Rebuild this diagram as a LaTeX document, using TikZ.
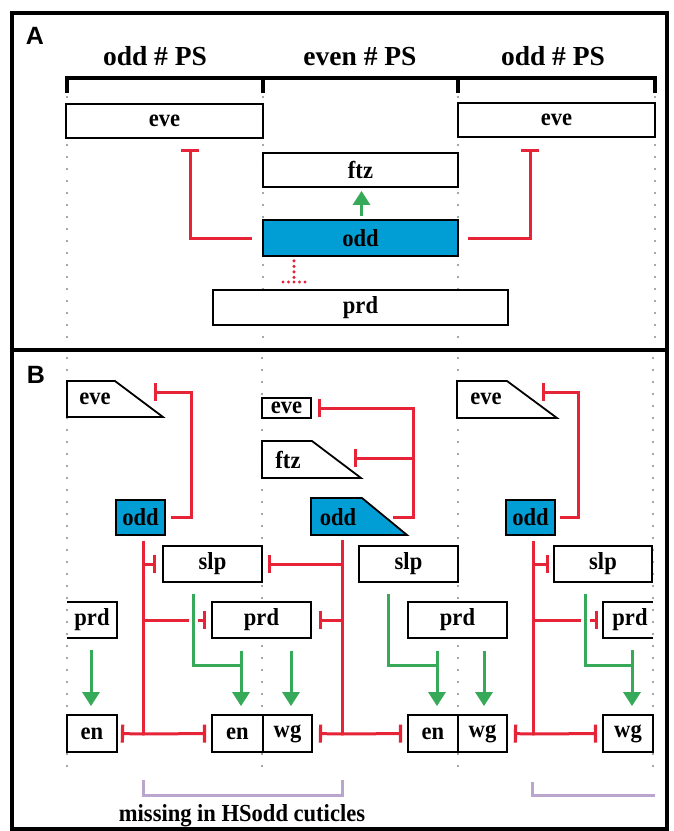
\documentclass[tikz,border=0pt]{standalone}
\usepackage{fontspec}
\setmainfont{Liberation Serif}
\newfontfamily\lblfont{Liberation Serif}[FakeStretch=0.92]
\newfontfamily\panelfont{Liberation Sans}
\usetikzlibrary{arrows.meta,calc}
\definecolor{oddblue}{RGB}{0,158,212}
\definecolor{inhred}{RGB}{230,35,55}
\definecolor{actgreen}{RGB}{55,170,90}
\definecolor{brpurple}{RGB}{185,165,205}
\definecolor{dotgray}{RGB}{135,135,135}
\begin{document}
\begin{tikzpicture}[x=1pt,y=-1pt,
  lbl/.style={font=\lblfont\fontsize{24.5}{26}\selectfont\bfseries, inner sep=0pt},
  hdr/.style={font=\fontsize{27.5}{30}\selectfont\bfseries, inner sep=0pt},
  pl/.style={font=\panelfont\fontsize{25}{26}\selectfont\bfseries, inner sep=0pt},
  box/.style={lbl, draw=black, line width=1.8pt, fill=white},
  oddbox/.style={box, fill=oddblue},
  ghost/.style={lbl, draw=none},
  trap/.style={draw=black, line width=1.8pt, fill=white, line join=miter},
  frame/.style={draw=black, line width=3.5pt},
  brk/.style={draw=black, line width=3.5pt},
  dotl/.style={draw=dotgray, line width=2.4pt, line cap=round, dash pattern=on 0pt off 12pt},
  inh/.style={draw=inhred, line width=3pt, -{Bar[width=18pt,line width=3.2pt]}},
  rl/.style={draw=inhred, line width=3pt},
  reddot/.style={draw=inhred, line width=3.4pt, line cap=round, dash pattern=on 0pt off 5.5pt},
  act/.style={draw=actgreen, line width=3pt, -{Triangle[width=17pt,length=14pt]}},
  gl/.style={draw=actgreen, line width=3pt, preaction={draw=white, line width=9pt}},
  pb/.style={draw=brpurple, line width=3pt}
]
\useasboundingbox (0,0) rectangle (674,831);
\fill[white] (0,0) rectangle (674,831);

% ---------------- frames ----------------
\draw[frame] (12,13) rectangle (667,350);
\draw[frame] (12,350) rectangle (667,829);
\node[pl, anchor=base] (labA) at (35,44) {A};
\node[pl, anchor=base] (labB) at (36,383) {B};

% ---------------- panel A ----------------
\node[hdr, anchor=base] (hA1) at (155,65) {odd \# PS};
\node[hdr, anchor=base] (hA2) at (360,65) {even \# PS};
\node[hdr, anchor=base] (hA3) at (553,65) {odd \# PS};
\draw[brk] (67,93) |- (655,78) -- (655,93);
\draw[brk] (263,78) -- (263,93);
\draw[brk] (458,78) -- (458,93);

\foreach \xx in {67,263,458,655} \draw[dotl] (\xx,97) -- (\xx,345);

\node[box, minimum width=197pt, minimum height=34pt] (eveA1) at (164.5,121) {eve};
\node[box, minimum width=197pt, minimum height=34pt] (eveA2) at (556.5,120) {eve};
\node[box, minimum width=195pt, minimum height=34pt] (ftzA) at (360.5,170) {ftz};
\node[oddbox, minimum width=195pt, minimum height=36pt] (oddA) at (360.5,238) {odd};
\node[box, minimum width=295pt, minimum height=35pt] (prdA) at (360.5,307.5) {prd};

\coordinate (tA1) at (190,149);
\coordinate (tA2) at (530,149);
\coordinate (tA3) at (294,282);
\draw[inh, shorten <=10pt] (oddA.west) -| (tA1);
\draw[inh, shorten <=9pt] (oddA.east) -| (tA2);
\draw[reddot] ($(oddA.south -| tA3)+(0,4)$) -- (tA3) ($(tA3)+(-11,0)$) -- ($(tA3)+(11,0)$);
\draw[act, shorten <=3pt, shorten >=3pt] ([xshift=1pt]oddA.north) -- ([xshift=1pt]ftzA.south);

% ---------------- panel B ----------------
\foreach \xx in {67,262,458,653} \draw[dotl] (\xx,358) -- (\xx,772);

% column 1
\draw[trap] (67,381) -- (115,381) -- (163,417) -- (67,417) -- cycle;
\node[lbl] (eveB1) at (95,399) {eve};
\coordinate (tB1) at (154,392);
\node[oddbox, minimum width=49pt, minimum height=35pt] (oddB1) at (140.5,517.5) {odd};
\node[box, minimum width=99pt, minimum height=36pt] (slpB1) at (212.5,564) {slp};
\node[ghost, minimum width=50pt, minimum height=36pt] (prdB1) at (92,620) {prd};
\draw[line width=1.8pt] (prdB1.north west) -- (prdB1.north east) -- (prdB1.south east) -- (prdB1.south west);
\node[box, minimum width=50pt, minimum height=37pt] (enB1) at (92,733.5) {en};
\node[box, minimum width=99pt, minimum height=36pt] (prdB2) at (261.5,620) {prd};
\node[box, minimum width=51pt, minimum height=37pt] (enB2) at (237.5,733.5) {en};
\node[box, minimum width=49pt, minimum height=37pt] (wgB2) at (287.5,733.5) {wg};

% column 2
\node[box, minimum width=49pt, minimum height=20pt] (eveB2) at (286.5,408) {eve};
\draw[trap] (262,441) -- (312,441) -- (361,478) -- (262,478) -- cycle;
\node[lbl] (ftzB) at (288,460) {ftz};
\coordinate (tftz) at (354,458);
\draw[trap, fill=oddblue] (311,498) -- (362,498) -- (407,535) -- (311,535) -- cycle;
\node[lbl] (oddB2) at (338,517) {odd};
\coordinate (oddB2s) at (393,517);
\coordinate (oddB2b) at (342,535);
\node[box, minimum width=99pt, minimum height=36pt] (slpB2) at (408.5,564) {slp};
\node[box, minimum width=99pt, minimum height=36pt] (prdB3) at (457.5,620) {prd};
\node[box, minimum width=50pt, minimum height=37pt] (enB3) at (433,733.5) {en};
\node[box, minimum width=49pt, minimum height=37pt] (wgB3) at (482.5,733.5) {wg};

% column 3
\draw[trap] (457,381) -- (507,381) -- (557,418) -- (457,418) -- cycle;
\node[lbl] (eveB3) at (486,399) {eve};
\coordinate (tB3) at (542,392);
\node[oddbox, minimum width=49pt, minimum height=35pt] (oddB3) at (530.5,517.5) {odd};
\node[box, minimum width=98pt, minimum height=36pt] (slpB3) at (603,564) {slp};
\node[ghost, minimum width=50pt, minimum height=36pt] (prdB4) at (628,620) {\hspace*{4pt}prd};
\draw[line width=1.8pt] (prdB4.north east) -- (prdB4.north west) -- (prdB4.south west) -- (prdB4.south east);
\node[box, minimum width=50pt, minimum height=37pt] (wgB4) at (628,733.5) {wg};

% ---- inhibitions, column 1
\draw[inh, shorten <=5pt] (oddB1.east) -| (191,392) -- (tB1);
\coordinate (k1) at (143,734);
\draw[rl, shorten <=5pt] (oddB1.south -| k1) -- (k1);
\draw[inh, shorten >=6pt] (k1 |- slpB1.west) -- (slpB1.west);
\draw[inh, shorten >=5pt] (k1 |- prdB2.west) -- (prdB2.west);
\draw[inh, shorten >=3pt] (k1) -- (enB1.east);
\draw[inh, shorten >=5pt] (k1) -- (enB2.west);

% ---- inhibitions, column 2
\draw[inh, shorten >=6pt] (oddB2s) -- (413,517) |- (eveB2.east);
\coordinate (jB2) at (413,458);
\draw[inh] (jB2) -- (tftz);
\coordinate (k2) at (342,734);
\draw[rl, shorten <=5pt] (oddB2b) -- (k2);
\draw[inh, shorten >=5pt] (k2 |- slpB1.east) -- (slpB1.east);
\draw[inh, shorten >=7pt] (k2 |- prdB2.east) -- (prdB2.east);
\draw[inh, shorten >=6pt] (k2) -- (wgB2.east);
\draw[inh, shorten >=5pt] (k2) -- (enB3.west);

% ---- inhibitions, column 3
\draw[inh, shorten <=4pt] (oddB3.east) -| (578,392) -- (tB3);
\coordinate (k3) at (533,734);
\draw[rl, shorten <=5pt] (oddB3.south -| k3) -- (k3);
\draw[inh, shorten >=4pt] (k3 |- slpB3.west) -- (slpB3.west);
\draw[inh, shorten >=5pt] (k3 |- prdB4.west) -- (prdB4.west);
\draw[inh, shorten >=6pt] (k3) -- (wgB3.east);
\draw[inh, shorten >=5pt] (k3) -- (wgB4.west);

% ---- activations
\draw[act, shorten <=12pt, shorten >=8pt] ([xshift=-1pt]prdB1.south) -- ([xshift=-1pt]enB1.north);
\draw[gl, shorten <=11pt] ([xshift=-19.5pt]slpB1.south) |- (241,665);
\draw[act, shorten <=12pt, shorten >=8pt] ([xshift=-20.5pt]prdB2.south) -- ([xshift=3.5pt]enB2.north);
\draw[act, shorten <=12pt, shorten >=8pt] ([xshift=29.5pt]prdB2.south) -- ([xshift=3.5pt]wgB2.north);

\draw[gl, shorten <=11pt] ([xshift=-20.5pt]slpB2.south) |- (437,665);
\draw[act, shorten <=12pt, shorten >=8pt] ([xshift=-20.5pt]prdB3.south) -- ([xshift=4pt]enB3.north);
\draw[act, shorten <=12pt, shorten >=8pt] ([xshift=26.5pt]prdB3.south) -- ([xshift=1.5pt]wgB3.north);

\draw[gl, shorten <=11pt] ([xshift=-18pt]slpB3.south) |- (632,665);
\draw[act, shorten <=12pt, shorten >=8pt] ([xshift=4pt]prdB4.south) -- ([xshift=4pt]wgB4.north);

% ---- brackets and caption
\draw[pb] (143,780) |- (342,795) -- (342,780);
\draw[pb] (532,782) |- (655,795);
\node[lbl, anchor=base] (miss) at (242,821) {missing in HSodd cuticles};
\end{tikzpicture}
\end{document}
